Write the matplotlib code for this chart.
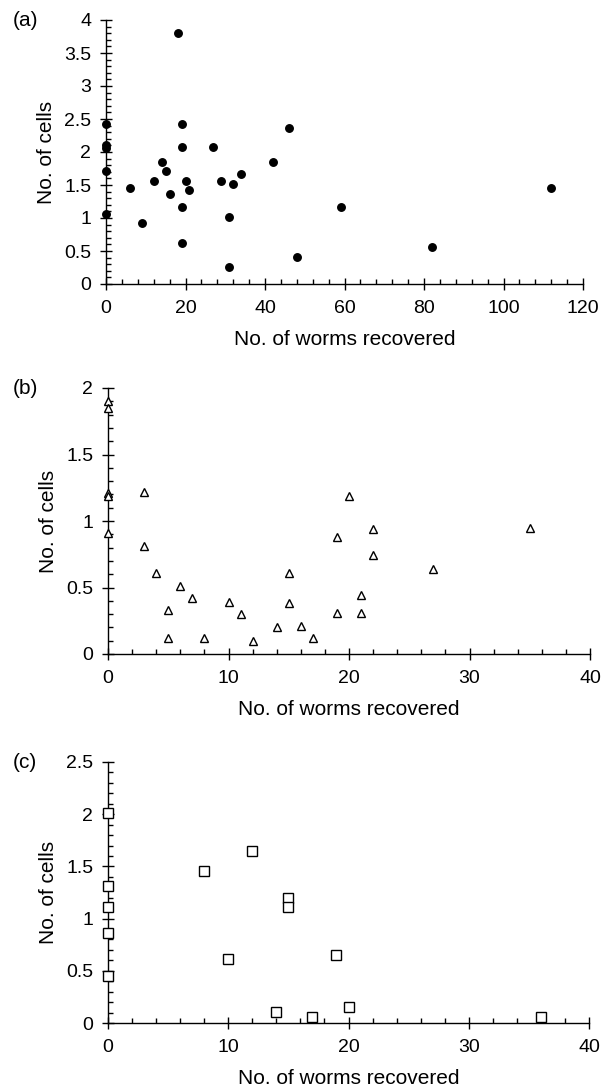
import matplotlib
matplotlib.use("Agg")
import matplotlib.pyplot as plt
from matplotlib.ticker import MultipleLocator

# ---- data ----
a_worms = [18, 0, 0, 0, 0, 0, 6, 9, 12, 14, 15, 16, 19, 19, 19, 19, 20, 21,
           27, 29, 31, 31, 32, 34, 42, 46, 48, 59, 82, 112]
a_cells = [3.80, 2.42, 2.11, 2.06, 1.71, 1.06, 1.46, 0.92, 1.56, 1.85, 1.71, 1.36,
           2.42, 2.07, 1.16, 0.62, 1.56, 1.42, 2.07, 1.56, 1.02, 0.26, 1.52, 1.67,
           1.85, 2.36, 0.41, 1.16, 0.56, 1.46]

b_worms = [0, 0, 0, 0, 0, 3, 3, 4, 5, 5, 6, 7, 8, 10, 11, 12, 14, 15, 15, 16,
           17, 19, 19, 20, 21, 21, 22, 22, 27, 35]
b_cells = [1.90, 1.85, 1.21, 1.19, 0.91, 1.22, 0.81, 0.61, 0.33, 0.12, 0.51, 0.42,
           0.12, 0.39, 0.30, 0.10, 0.20, 0.61, 0.38, 0.21, 0.12, 0.88, 0.31, 1.19,
           0.44, 0.31, 0.94, 0.745, 0.64, 0.95]

c_worms = [0, 0, 0, 0, 0, 8, 10, 12, 14, 15, 15, 17, 19, 20, 36]
c_cells = [2.01, 1.31, 1.11, 0.86, 0.45, 1.46, 0.61, 1.65, 0.11, 1.20, 1.11,
           0.06, 0.65, 0.15, 0.06]

panel_labels = ["(a)", "(b)", "(c)"]
x_label = "No. of worms recovered"
y_label = "No. of cells"

plt.rcParams['font.family'] = ['Liberation Sans', 'DejaVu Sans']
FS_LAB = 15
FS_TICK = 14

W, H = 611, 1086
fig = plt.figure(figsize=(W / 100, H / 100), dpi=100)

def px_axes(left, right, top, bottom):
    return fig.add_axes([left / W, 1 - bottom / H, (right - left) / W, (bottom - top) / H])

axA = px_axes(106, 583, 20, 284)
axB = px_axes(108, 590, 388, 654)
axC = px_axes(108, 589, 762, 1023)

configs = [
    (axA, a_worms, a_cells, dict(marker='o', ms=5.4, mfc='black', mec='black'),
     (0, 120), (0, 4), 20, 4, 0.5, 0.1),
    (axB, b_worms, b_cells, dict(marker='^', ms=6.0, mfc='white', mec='black', mew=1.0),
     (0, 40), (0, 2), 10, 2, 0.5, 0.1),
    (axC, c_worms, c_cells, dict(marker='s', ms=7.2, mfc='white', mec='black', mew=1.0),
     (0, 40), (0, 2.5), 10, 2, 0.5, 0.1),
]

for i, (ax, xs, ys, mk, xl, yl, xmaj, xmin, ymaj, ymin) in enumerate(configs):
    ax.plot(xs, ys, linestyle='none', clip_on=False, zorder=5, **mk)
    ax.set_xlim(*xl)
    ax.set_ylim(*yl)
    for s in ['top', 'right']:
        ax.spines[s].set_visible(False)
    for s in ['left', 'bottom']:
        ax.spines[s].set_linewidth(1.0)
    ax.xaxis.set_major_locator(MultipleLocator(xmaj))
    ax.xaxis.set_minor_locator(MultipleLocator(xmin))
    ax.yaxis.set_major_locator(MultipleLocator(ymaj))
    ax.yaxis.set_minor_locator(MultipleLocator(ymin))
    ax.tick_params(which='major', direction='inout', length=8.9, width=1.0,
                   labelsize=FS_TICK)
    ax.tick_params(axis='x', which='major', pad=7.3)
    ax.tick_params(axis='y', which='major', pad=6.2)
    ax.tick_params(which='minor', direction='in', length=3.5, width=1.0)
    ax.yaxis.set_major_formatter(plt.FuncFormatter(lambda v, p: f"{v:g}"))
    ax.set_xlabel(x_label, fontsize=FS_LAB, labelpad=9)
    ax.set_ylabel(y_label, fontsize=FS_LAB, labelpad=6)
    ax.set_facecolor('none')
    pos = ax.get_position()
    fig.text(13 / W, pos.y1, panel_labels[i], fontsize=FS_LAB, ha='left', va='center')

fig.savefig("out.png", dpi=100)
